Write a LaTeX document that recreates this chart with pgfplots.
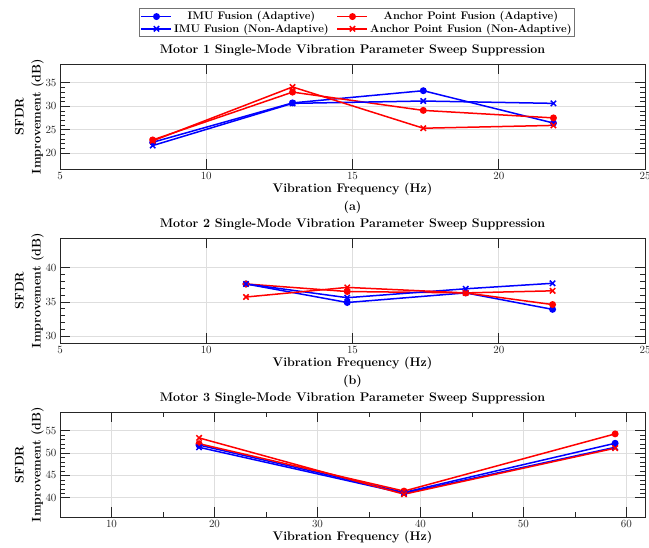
\documentclass[border=0pt]{standalone}
\usepackage{pgfplots}
\pgfplotsset{compat=1.18}
\definecolor{axgray}{rgb}{0.15,0.15,0.15}
\pgfplotsset{
 mystyle/.style={
  scale only axis, width=585pt, height=105pt,
  axis line style={axgray, line width=0.8pt},
  tick style={axgray, line width=0.6pt},
  major tick length=10pt, minor tick length=5pt,
  tick align=inside, xtick pos=both, ytick pos=both,
  grid=major, major grid style={black!13, line width=0.6pt},
  minor y tick num=4,
  tick label style={font=\fontsize{11}{13}\selectfont, text=axgray},
  title style={font=\bfseries\fontsize{12.5}{14}\selectfont, yshift=-2pt},
  xlabel style={font=\bfseries\fontsize{12.5}{14}\selectfont, yshift=3pt},
  ylabel style={font=\bfseries\fontsize{12.5}{17}\selectfont, align=center, xshift=0pt, yshift=-5pt},
  ylabel={SFDR\\Improvement (dB)},
  xlabel={Vibration Frequency (Hz)},
  every axis plot/.append style={line width=1.5pt},
  clip=false,
 },
 ia/.style={blue, mark=*, mark size=2.7pt, mark options={solid}},
 ina/.style={blue, mark=x, mark size=3.8pt, mark options={solid}},
 aa/.style={red, mark=*, mark size=2.7pt, mark options={solid}},
 ana/.style={red, mark=x, mark size=3.8pt, mark options={solid}},
}
\begin{document}
\begin{tikzpicture}
\useasboundingbox (0,0) rectangle (649pt,548pt);
\clip (0,0) rectangle (649pt,548pt);
% (a)
\begin{axis}[mystyle, at={(60pt,379pt)}, anchor=south west,
  xmin=5, xmax=25, ymin=16.6, ymax=39,
  xtick={5,10,15,20,25}, ytick={20,25,30,35},
  title={Motor 1 Single-Mode Vibration Parameter Sweep Suppression},
  legend columns=2,
  legend style={at={(0.508,1)}, anchor=south, yshift=27pt,
    draw=black!55, line width=0.6pt, font=\bfseries\fontsize{11}{12}\selectfont,
    inner sep=1pt, row sep=-1.5pt,
    /tikz/every odd column/.append style={inner xsep=2pt},
    /tikz/every even column/.append style={column sep=6pt}},
  legend image code/.code={\draw[#1, mark repeat=2, mark phase=2] plot coordinates {(0pt,0pt) (15pt,0pt) (30pt,0pt)};},
]
\addplot[ia] coordinates {(8.17,22.3) (12.95,30.7) (17.42,33.3) (21.87,26.4)};
\addlegendentry{IMU Fusion (Adaptive)}
\addplot[aa] coordinates {(8.17,22.8) (12.95,33.0) (17.42,29.1) (21.87,27.5)};
\addlegendentry{Anchor Point Fusion (Adaptive)}
\addplot[ina] coordinates {(8.17,21.6) (12.95,30.6) (17.42,31.1) (21.87,30.6)};
\addlegendentry{IMU Fusion (Non-Adaptive)}
\addplot[ana] coordinates {(8.17,22.6) (12.95,34.1) (17.42,25.3) (21.87,25.9)};
\addlegendentry{Anchor Point Fusion (Non-Adaptive)}
\node[font=\bfseries\fontsize{12.5}{14}\selectfont] at (rel axis cs:0.5,0) [yshift=-38pt] {(a)};
\end{axis}
% (b)
\begin{axis}[mystyle, at={(60pt,205pt)}, anchor=south west,
  xmin=5, xmax=25, ymin=29, ymax=44.3,
  xtick={5,10,15,20,25}, ytick={30,35,40},
  title={Motor 2 Single-Mode Vibration Parameter Sweep Suppression},
]
\addplot[ia] coordinates {(11.36,37.6) (14.82,34.9) (18.87,36.3) (21.84,33.9)};
\addplot[aa] coordinates {(11.36,37.6) (14.82,36.5) (18.87,36.3) (21.84,34.6)};
\addplot[ina] coordinates {(11.36,37.6) (14.82,35.6) (18.87,36.9) (21.84,37.7)};
\addplot[ana] coordinates {(11.36,35.7) (14.82,37.1) (18.87,36.3) (21.84,36.6)};
\node[font=\bfseries\fontsize{12.5}{14}\selectfont] at (rel axis cs:0.5,0) [yshift=-38pt] {(b)};
\end{axis}
% (c)
\begin{axis}[mystyle, at={(60pt,31pt)}, anchor=south west,
  xmin=5, xmax=61.8, ymin=35.7, ymax=59.2,
  xtick={10,20,30,40,50,60}, minor x tick num=1, ytick={40,45,50,55},
  title={Motor 3 Single-Mode Vibration Parameter Sweep Suppression},
]
\addplot[ia] coordinates {(18.5,51.8) (38.4,41.2) (58.9,52.2)};
\addplot[aa] coordinates {(18.5,52.1) (38.4,41.5) (58.9,54.3)};
\addplot[ina] coordinates {(18.5,51.3) (38.4,41.0) (58.9,51.3)};
\addplot[ana] coordinates {(18.5,53.4) (38.4,40.8) (58.9,51.1)};
\end{axis}
\end{tikzpicture}
\end{document}
